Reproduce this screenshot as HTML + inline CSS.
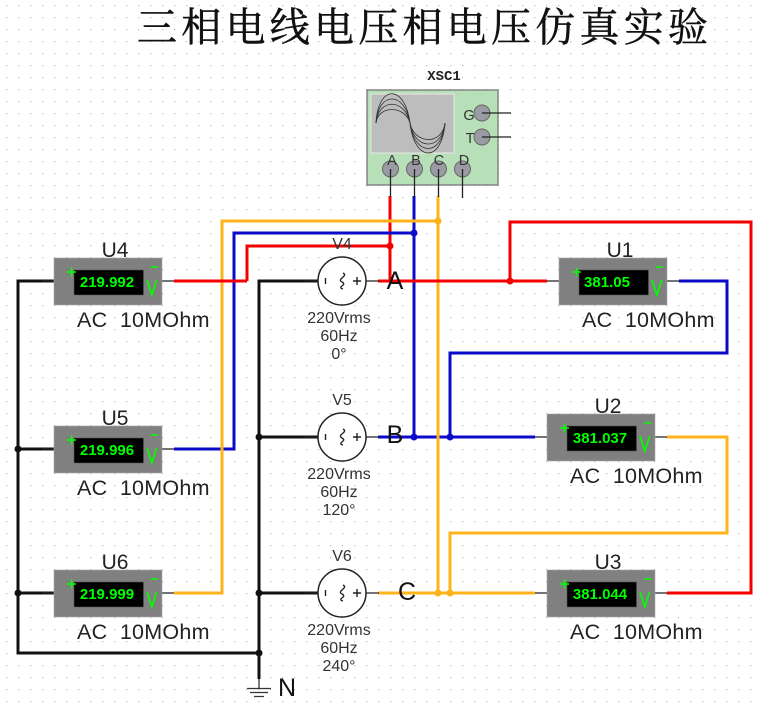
<!DOCTYPE html>
<html><head><meta charset="utf-8"><style>
html,body{margin:0;padding:0;background:#fff;width:758px;height:706px;overflow:hidden}
svg{display:block}
text{font-family:"Liberation Sans",sans-serif;fill:#222}
.w{fill:none;stroke-width:3;stroke-linejoin:miter}
.r{stroke:#f50000}.b{stroke:#0a0ac8}.o{stroke:#ffb31a}.k{stroke:#111}
.t{stroke:#222;stroke-width:1.3;fill:none}
.lab{font-size:21px;text-anchor:middle}
.ac{font-size:21.500px;letter-spacing:.25px}
.val{font-size:15px;font-weight:bold;fill:#0f0;text-anchor:middle}
.src{font-size:16px;text-anchor:middle;fill:#333}
.big{font-size:25px;fill:#111;text-anchor:middle}
.pin{font-size:14.500px;text-anchor:middle;fill:#333}
#all{filter:blur(.35px)}
</style></head><body>
<svg xmlns="http://www.w3.org/2000/svg" width="758" height="706" viewBox="0 0 758 706">
<defs>
<pattern id="g" x="6" y="5" width="12" height="12" patternUnits="userSpaceOnUse"><rect width="1.200" height="1.200" fill="#bbb"/></pattern>
<g id="m">
<path class="t" d="M-12 23H0M108 23H120"/>
<rect width="108" height="47" fill="#808080" stroke="#aaa" stroke-width=".6"/>
<rect x="20" y="12" width="69.500" height="25" fill="#000" stroke="#555" stroke-width=".6"/>
<path d="M13 14h9M17.500 9.500v9M97 9h7" stroke="#0f0" stroke-width="1.500" fill="none"/>
<path d="M93 22l4.800 15 4.800-15" stroke="#0f0" stroke-width="1.700" fill="none"/>
</g>
<g id="s">
<path class="t" d="M-37 0H-24M24 0H37"/>
<circle r="24" fill="#fff" stroke="#222" stroke-width="1.500"/>
<path d="M-16.500-3v6M11 0H19M15-4V4" stroke="#222" stroke-width="1.400" fill="none"/>
<path d="M1-8C7-5-6-2 0 1S-6 6 1 8" stroke="#222" stroke-width="1.300" fill="none"/>
</g>
</defs>
<g id="all">
<rect width="758" height="706" fill="#fff"/>
<rect width="758" height="706" fill="url(#g)"/>

<text x="137" y="41" textLength="571" lengthAdjust="spacing" style="font-family:'Liberation Serif','Noto Serif CJK SC',serif;font-size:40px;fill:#111;stroke:#111;stroke-width:.5px">三相电线电压相电压仿真实验</text>

<!-- black wires -->
<path class="w k" d="M54 281H18V653H259M18 449H54M18 593H54M318 281H259V679M259 437H318M259 593H318"/>
<!-- red vertical parts -->
<path class="w r" d="M247 281V246H390M390 196V281M510 281V222H751V593H667"/>
<!-- blue -->
<path class="w b" d="M174 449H234V233H414V437M414 196V233M378 437H535M450 437V353H727V281H679"/>
<!-- orange -->
<path class="w o" d="M174 593H222V221H438V593M438 196V221M378 593H535M450 593V533H727V437H667"/>
<!-- red horizontal on top -->
<path class="w r" d="M174 281H247M378 281H547"/>

<g fill="#111"><circle cx="18" cy="449" r="3.500"/><circle cx="18" cy="593" r="3.500"/><circle cx="259" cy="437" r="3.500"/><circle cx="259" cy="593" r="3.500"/><circle cx="259" cy="653" r="3.500"/></g>
<circle cx="390" cy="246" r="3.500" fill="#f50000"/><circle cx="510" cy="281" r="3.500" fill="#f50000"/>
<circle cx="414" cy="233" r="3.500" fill="#0a0ac8"/><circle cx="414" cy="437" r="3.500" fill="#0a0ac8"/><circle cx="450" cy="437" r="3.500" fill="#0a0ac8"/>
<circle cx="438" cy="221" r="3.500" fill="#ffb31a"/><circle cx="438" cy="593" r="3.500" fill="#ffb31a"/><circle cx="450" cy="593" r="3.500" fill="#ffb31a"/>

<!-- ground -->
<path d="M259 679V688" stroke="#333" stroke-width="1.300"/>
<path d="M247 688.500H271M250 692.500H268M254 696.500H264" stroke="#333" stroke-width="1.300"/>
<text x="287" y="696" class="big">N</text>

<!-- meters -->
<use href="#m" x="54" y="258"/><use href="#m" x="54" y="426"/><use href="#m" x="54" y="570"/>
<use href="#m" x="559" y="258"/><use href="#m" x="547" y="414"/><use href="#m" x="547" y="570"/>
<text class="val" x="107" y="287">219.992</text><text class="val" x="107" y="455">219.996</text><text class="val" x="107" y="599">219.999</text>
<text class="val" x="607" y="287">381.05</text><text class="val" x="600" y="443">381.037</text><text class="val" x="600" y="599">381.044</text>
<text class="lab" x="115" y="257">U4</text><text class="lab" x="115" y="425">U5</text><text class="lab" x="115" y="569">U6</text>
<text class="lab" x="620" y="257">U1</text><text class="lab" x="608" y="413">U2</text><text class="lab" x="608" y="569">U3</text>
<text class="ac" x="77" y="327">AC&#160;&#160;10MOhm</text><text class="ac" x="77" y="495">AC&#160;&#160;10MOhm</text><text class="ac" x="77" y="639">AC&#160;&#160;10MOhm</text>
<text class="ac" x="582" y="327">AC&#160;&#160;10MOhm</text><text class="ac" x="570" y="483">AC&#160;&#160;10MOhm</text><text class="ac" x="570" y="639">AC&#160;&#160;10MOhm</text>

<!-- sources -->
<use href="#s" x="342" y="281"/><use href="#s" x="342" y="437"/><use href="#s" x="342" y="593"/>
<text class="src" x="342" y="249">V4</text><text class="src" x="339" y="323">220Vrms</text><text class="src" x="339" y="341">60Hz</text><text class="src" x="339" y="359">0°</text>
<text class="src" x="342" y="405">V5</text><text class="src" x="339" y="479">220Vrms</text><text class="src" x="339" y="497">60Hz</text><text class="src" x="339" y="515">120°</text>
<text class="src" x="342" y="561">V6</text><text class="src" x="339" y="635">220Vrms</text><text class="src" x="339" y="653">60Hz</text><text class="src" x="339" y="671">240°</text>
<text class="big" x="395" y="289">A</text><text class="big" x="395" y="443">B</text><text class="big" x="407" y="600">C</text>

<!-- scope -->
<text x="444" y="80" style="font-family:'Liberation Mono',monospace;font-size:14px;font-weight:bold;fill:#222;text-anchor:middle">XSC1</text>
<rect x="367" y="90" width="131" height="95" fill="#b8e0b8" stroke="#777" stroke-width="1.300"/>
<rect x="371" y="94" width="83" height="59" fill="#bdbdbd" stroke="#e8e8e8" stroke-width="1"/>
<g fill="none" stroke="#333" stroke-width=".8">
<path d="M376 123C378 84 405 84 410 123C414 162 442 164 445 123"/>
<path d="M376 123C378 91 405 91 410 123C414 156 442 158 445 123"/>
<path d="M376 123C378 98 405 98 410 123C414 150 442 152 445 123"/>
<path d="M376 123C378 105 405 105 410 123C414 144 442 146 445 123"/>
</g>
<g fill="#9b9ba3" stroke="#666" stroke-width="1">
<circle cx="482" cy="113" r="8"/><circle cx="482" cy="137" r="8"/>
<circle cx="390.500" cy="169" r="8"/><circle cx="414.500" cy="169" r="8"/><circle cx="438.500" cy="169" r="8"/><circle cx="462.500" cy="169" r="8"/>
</g>
<path d="M482 113H511M482 137H511M390.500 169V197M414.500 169V197M438.500 169V197M462.500 169V198" stroke="#222" stroke-width="1.300" fill="none"/>
<text class="pin" x="469" y="120">G</text><text class="pin" x="470" y="143">T</text>
<text class="pin" x="392" y="165">A</text><text class="pin" x="416" y="165">B</text><text class="pin" x="439" y="165">C</text><text class="pin" x="464" y="165">D</text>
</g>
</svg>
</body></html>
